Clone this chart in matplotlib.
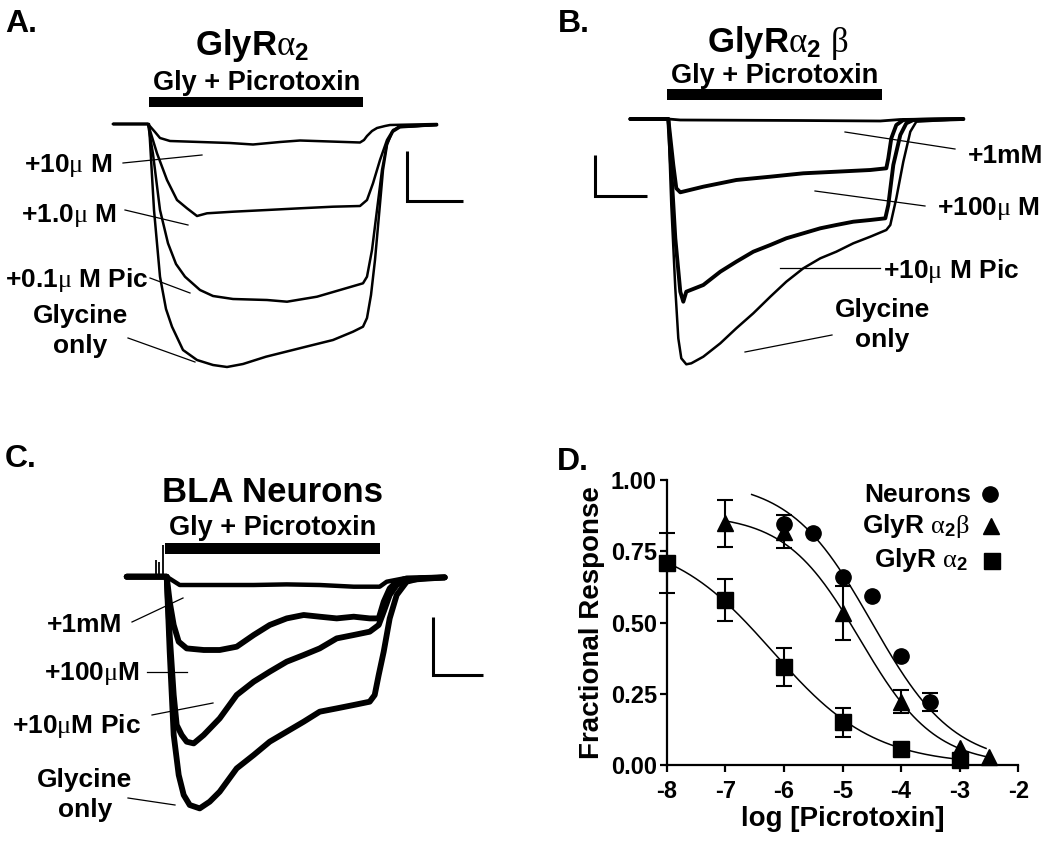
import numpy as np
import matplotlib
matplotlib.use("Agg")
import matplotlib.pyplot as plt
from matplotlib.lines import Line2D
from matplotlib.patches import Rectangle

plt.rcParams.update({
    "font.family": ["Liberation Sans", "DejaVu Sans"],
    "font.weight": "bold",
    "mathtext.fontset": "custom",
    "mathtext.rm": "Liberation Sans:weight=bold",
    "mathtext.bf": "Liberation Sans:weight=bold",
    "mathtext.sf": "Liberation Sans:weight=bold",
    "mathtext.it": "Liberation Serif:weight=normal:style=normal",
    "axes.unicode_minus": False,
})

# ---------------- trace data (time s, current pA) ----------------
# Panel A: GlyR alpha2
A_T_10 = [-3.5, 0, 0.7, 1.2, 2.2, 5.2, 8.2, 10.5, 13.2, 15.2, 18.2, 21.2, 21.6, 21.9, 22.4, 22.9, 23.7, 24.2, 28.9]
A_I_10 = [0, 0, -80, -140, -170, -180, -190, -205, -180, -165, -175, -185, -160, -120, -70, -40, -20, -10, 0]
A_T_1 = [-3.5, 0, 0.9, 1.9, 2.9, 3.9, 4.9, 5.9, 8.5, 11.9, 15.2, 18.5, 21.2, 21.9, 22.5, 23.2, 23.9, 24.5, 25.2, 28.9]
A_I_1 = [0, 0, -293, -560, -760, -843, -920, -893, -877, -860, -843, -827, -820, -760, -593, -360, -160, -60, -27, -10]
A_T_01 = [-3.5, 0, 0.5, 1.2, 2.0, 2.8, 3.7, 5.2, 6.5, 8.5, 11.9, 13.9, 16.9, 19.2, 21.5, 21.9, 22.4, 22.9, 23.4, 23.9, 24.5, 25.2, 28.9]
A_I_01 = [0, 0, -300, -860, -1193, -1400, -1527, -1660, -1720, -1750, -1760, -1777, -1727, -1660, -1593, -1527, -1260, -860, -460, -193, -77, -33, -10]
A_T_G = [-3.5, 0.1, 0.6, 1.2, 1.8, 2.4, 3.5, 4.9, 6.5, 7.9, 9.5, 11.8, 13.8, 15.8, 18.5, 20.5, 21.5, 21.9, 22.3, 22.7, 23.1, 23.5, 23.9, 24.4, 25.0, 28.9]
A_I_G = [0, 0, -860, -1527, -1850, -2027, -2260, -2360, -2410, -2430, -2400, -2327, -2277, -2227, -2160, -2077, -2027, -1940, -1710, -1360, -910, -460, -210, -80, -30, -10]

# Panel B: GlyR alpha2 beta
B_T_1M = [-3.8, 0, 1.2, 13.2, 21.2, 23.2, 29.5]
B_I_1M = [0, 0, -10, -15, -20, -5, 0]
B_T_100 = [-3.8, 0, 0.5, 0.8, 1.2, 3.5, 6.8, 10.2, 13.5, 16.8, 20.2, 21.8, 22.0, 22.3, 22.8, 23.5, 29.5]
B_I_100 = [0, 0, -460, -693, -733, -677, -610, -577, -543, -527, -510, -493, -393, -193, -60, -10, 0]
B_T_10 = [-3.8, 0, 0.7, 1.2, 1.5, 1.8, 3.5, 5.2, 6.8, 8.5, 10.2, 11.8, 13.5, 15.2, 16.8, 18.5, 20.2, 21.7, 22.0, 22.5, 23.2, 23.8, 24.5, 29.5]
B_I_10 = [0, 0, -1193, -1727, -1827, -1727, -1660, -1527, -1427, -1327, -1260, -1193, -1143, -1093, -1060, -1027, -1010, -993, -860, -460, -160, -43, -10, 0]
B_T_G = [-3.8, 0, 0.3, 0.7, 1.0, 1.3, 1.8, 2.3, 3.5, 5.2, 6.8, 8.5, 10.2, 11.8, 13.5, 15.2, 16.8, 18.5, 20.2, 21.8, 22.2, 22.8, 23.5, 24.2, 24.8, 29.5]
B_I_G = [0, 0, -860, -1693, -2193, -2393, -2453, -2443, -2377, -2243, -2093, -1943, -1777, -1627, -1493, -1393, -1327, -1243, -1177, -1110, -1060, -793, -427, -127, -27, 0]

# Panel C: BLA neurons
C_T_1M = [-4.0, 0, 1.3, 3.7, 8.7, 12.0, 15.3, 18.7, 21.3, 22.0, 23.7, 27.8]
C_I_1M = [0, 0, -83, -83, -83, -77, -83, -100, -100, -50, -17, -7]
C_T_100 = [-4.0, 0, 0.3, 0.7, 1.2, 2.0, 3.7, 5.3, 7.0, 8.7, 10.3, 12.0, 13.7, 15.3, 17.0, 18.7, 20.3, 21.2, 21.7, 22.3, 23.0, 24.0, 27.8]
C_I_100 = [0, 0, -250, -483, -650, -717, -733, -733, -700, -583, -483, -417, -383, -400, -417, -400, -417, -417, -250, -117, -50, -17, -7]
C_T_10 = [-4.0, 0, 0.3, 0.7, 1.0, 1.5, 2.0, 2.7, 3.7, 5.3, 7.0, 8.7, 10.3, 12.0, 13.7, 15.3, 17.0, 18.7, 20.3, 21.2, 21.7, 22.3, 23.0, 24.0, 27.8]
C_I_10 = [0, 0, -583, -1183, -1483, -1583, -1650, -1667, -1583, -1417, -1183, -1050, -950, -850, -783, -717, -617, -583, -550, -483, -350, -183, -83, -33, -7]
C_T_G = [-4.0, 0, 0.3, 0.7, 1.2, 1.7, 2.3, 3.3, 4.3, 5.3, 7.0, 8.7, 10.3, 12.0, 13.7, 15.3, 17.0, 18.7, 20.3, 20.8, 21.2, 21.7, 22.3, 23.0, 24.0, 25.3, 27.8]
C_I_G = [0, 0, -750, -1583, -1983, -2183, -2283, -2317, -2250, -2150, -1917, -1783, -1650, -1550, -1450, -1350, -1317, -1283, -1250, -1183, -983, -750, -417, -183, -50, -17, -7]
C_ART_T = [-1.1, -0.8, -0.4]
C_ART_I = [167, 147, 317]

# drug application bars (t_start, t_end, I_low, I_high) and scale bars (t0, i0, dt, di)
A_BAR = (0.1, 21.5, 170, 270)
B_BAR = (-0.1, 21.4, 190, 300)
C_BAR = (-0.2, 21.3, 227, 337)
A_SCALE = (25.9, -770, 5.6, 500)
B_SCALE = (-7.3, -770, 5.2, 410)
C_SCALE = (26.6, -983, 5.0, 580)

# ---------------- concentration-response data ----------------
LOGC_NEU = [-6, -5.5, -5, -4.5, -4, -3.5]
RESP_NEU = [0.844, 0.815, 0.658, 0.594, 0.384, 0.222]
ERR_NEU = [0, 0, 0, 0, 0, 0.032]
LOGC_A2B = [-7, -6, -5, -4, -3, -2.5]
RESP_A2B = [0.848, 0.819, 0.532, 0.222, 0.058, 0.027]
ERR_A2B = [0.083, 0.057, 0.095, 0.040, 0, 0]
LOGC_A2 = [-8, -7, -6, -5, -4, -3]
RESP_A2 = [0.708, 0.579, 0.345, 0.150, 0.057, 0.018]
ERR_A2 = [0.105, 0.073, 0.067, 0.050, 0, 0]
# fitted logistic curves: (top, logIC50, Hill slope, x from, x to)
FIT_NEU = (1.00, -4.50, 0.62, -6.55, -2.55)
FIT_A2B = (0.88, -4.70, 0.68, -7.0, -2.5)
FIT_A2 = (0.80, -6.20, 0.50, -8.0, -3.0)
XTICKS = [-8, -7, -6, -5, -4, -3, -2]
YTICKS = [0.0, 0.25, 0.5, 0.75, 1.0]

# ---------------- layout helpers ----------------
W, H = 1050, 842
fig = plt.figure(figsize=(W / 100, H / 100), dpi=100)
S_PER_PX = 0.1
PA_PER_PX = 10.0


def fx(x):
    return x / W


def fy(y):
    return 1 - y / H


def ftext(x, y, s, size, ha="center", va="baseline", **kw):
    fig.text(fx(x), fy(y), s, ha=ha, va=va, fontsize=size, fontweight="bold", **kw)


def leader(x1, y1, x2, y2, lw=0.9):
    fig.add_artist(Line2D([fx(x1), fx(x2)], [fy(y1), fy(y2)], transform=fig.transFigure,
                          color="k", lw=lw))


def trace_panel(rect, onset, base, traces, bar, scale):
    x0, y0, x1, y1 = rect
    ax = fig.add_axes([x0 / W, 1 - y1 / H, (x1 - x0) / W, (y1 - y0) / H])
    ax.set_xlim((x0 - onset) * S_PER_PX, (x1 - onset) * S_PER_PX)
    ax.set_ylim((base - y1) * PA_PER_PX, (base - y0) * PA_PER_PX)
    ax.axis("off")
    for t, i, lw in traces:
        ax.plot(t, i, color="k", lw=lw, solid_joinstyle="round", solid_capstyle="round")
    ax.add_patch(Rectangle((bar[0], bar[2]), bar[1] - bar[0], bar[3] - bar[2],
                           facecolor="k", edgecolor="none"))
    t0, i0, dt, di = scale
    ax.plot([t0, t0, t0 + dt], [i0 + di, i0, i0], color="k", lw=2.2,
            solid_joinstyle="miter", solid_capstyle="butt")
    return ax


LBL = 19
TITLE = 25
SUB = 19.5
LETTER = 23

# ---------------- Panel A ----------------
trace_panel((95, 85, 480, 385), 148, 124,
            [(A_T_10, A_I_10, 1.8), (A_T_1, A_I_1, 1.8), (A_T_01, A_I_01, 1.8), (A_T_G, A_I_G, 1.8)],
            A_BAR, A_SCALE)
ftext(5, 32, "A.", LETTER, ha="left")
ftext(252, 55, r"GlyR$\alpha_2$", TITLE)
ftext(257, 90, "Gly + Picrotoxin", SUB)
ftext(112, 172, r"+10$\mu$ M", LBL, ha="right")
ftext(117, 222, r"+1.0$\mu$ M", LBL, ha="right")
ftext(5, 287, r"+0.1$\mu$ M Pic", LBL, ha="left")
ftext(80, 323, "Glycine", LBL)
ftext(80, 353, "only", LBL)
leader(123, 163, 202, 155)
leader(125, 210, 188, 225)
leader(150, 278, 190, 293)
leader(128, 338, 195, 362)

# ---------------- Panel B ----------------
trace_panel((580, 80, 1000, 385), 668.3, 119,
            [(B_T_1M, B_I_1M, 2.0), (B_T_100, B_I_100, 2.8), (B_T_10, B_I_10, 2.8), (B_T_G, B_I_G, 1.8)],
            B_BAR, B_SCALE)
ftext(558, 32, "B.", LETTER, ha="left")
ftext(778, 52, r"GlyR$\alpha_2$ $\beta$", TITLE)
ftext(775, 83, "Gly + Picrotoxin", SUB)
ftext(1043, 163, "+1mM", LBL, ha="right")
ftext(1040, 215, r"+100$\mu$ M", LBL, ha="right")
ftext(883, 278, r"+10$\mu$ M Pic", LBL, ha="left")
ftext(882, 317, "Glycine", LBL)
ftext(882, 347, "only", LBL)
leader(845, 132, 955, 149)
leader(815, 191, 925, 206)
leader(780, 268, 880, 268)
leader(745, 352, 832, 335)

# ---------------- Panel C ----------------
axc = trace_panel((110, 530, 500, 830), 166.7, 576.7,
                  [(C_T_1M, C_I_1M, 3.2), (C_T_100, C_I_100, 4.2), (C_T_10, C_I_10, 4.2), (C_T_G, C_I_G, 4.2)],
                  C_BAR, C_SCALE)
axc.vlines(C_ART_T, 0, C_ART_I, color="k", lw=1.3)
ftext(5, 467, "C.", LETTER, ha="left")
ftext(273, 502, "BLA Neurons", TITLE)
ftext(273, 535, "Gly + Picrotoxin", SUB)
ftext(122, 632, "+1mM", LBL, ha="right")
ftext(140, 680, r"+100$\mu$M", LBL, ha="right")
ftext(12, 733, r"+10$\mu$M Pic", LBL, ha="left")
ftext(85, 787, "Glycine", LBL)
ftext(85, 817, "only", LBL)
leader(132, 622, 183, 598)
leader(147, 672, 187, 672)
leader(152, 715, 213, 703)
leader(128, 798, 175, 805)

# ---------------- Panel D ----------------
ftext(557, 470, "D.", LETTER, ha="left")
axd = fig.add_axes([666.7 / W, 1 - 765 / H, 351.6 / W, 285 / H])
axd.set_xlim(-8, -2)
axd.set_ylim(0, 1)
for side in ("top", "right"):
    axd.spines[side].set_visible(False)
for side in ("left", "bottom"):
    axd.spines[side].set_linewidth(1.6)
axd.set_xticks(XTICKS)
axd.set_xticklabels([f"{v:d}" for v in XTICKS])
axd.set_yticks(YTICKS)
axd.set_yticklabels([f"{v:.2f}" for v in YTICKS])
axd.tick_params(direction="out", length=5, width=1.6, labelsize=17, pad=2)
axd.tick_params(axis="x", pad=6)
for lab in axd.get_xticklabels() + axd.get_yticklabels():
    lab.set_fontweight("bold")
axd.set_xlabel("log [Picrotoxin]", fontsize=20, fontweight="bold", labelpad=2)
axd.set_ylabel("Fractional Response", fontsize=20, fontweight="bold", labelpad=4)


def hill(params):
    top, c, h, x0, x1 = params
    x = np.linspace(x0, x1, 200)
    return x, top / (1 + 10 ** ((x - c) * h))


for params in (FIT_NEU, FIT_A2B, FIT_A2):
    xc, yc = hill(params)
    axd.plot(xc, yc, color="k", lw=1.1, zorder=2)

series = [
    (LOGC_NEU, RESP_NEU, ERR_NEU, "o", 11),
    (LOGC_A2B, RESP_A2B, ERR_A2B, "^", 12),
    (LOGC_A2, RESP_A2, ERR_A2, "s", 11),
]
for k, (xs, ys, es, mk, ms) in enumerate(series):
    xs = np.asarray(xs, float)
    ys = np.asarray(ys, float)
    es = np.asarray(es, float)
    m = es > 0
    axd.errorbar(xs[m], ys[m], yerr=es[m], fmt="none", ecolor="k", elinewidth=1.5,
                 capsize=6, capthick=1.5, zorder=3 + k, clip_on=False)
    axd.plot(xs, ys, ls="none", marker=mk, ms=ms, color="k", zorder=3 + k, clip_on=False)

# legend
ftext(971, 502, "Neurons", LBL, ha="right")
ftext(970, 533, r"GlyR $\alpha_2\beta$", LBL, ha="right")
ftext(968, 567, r"GlyR $\alpha_2$", LBL, ha="right")
for (xm, ym, mk, ms) in [(990, 494, "o", 11), (991, 526, "^", 12), (992, 561, "s", 11)]:
    fig.add_artist(Line2D([fx(xm)], [fy(ym)], marker=mk, ms=ms, color="k", ls="none",
                          transform=fig.transFigure))

fig.savefig("out.png", dpi=100)
